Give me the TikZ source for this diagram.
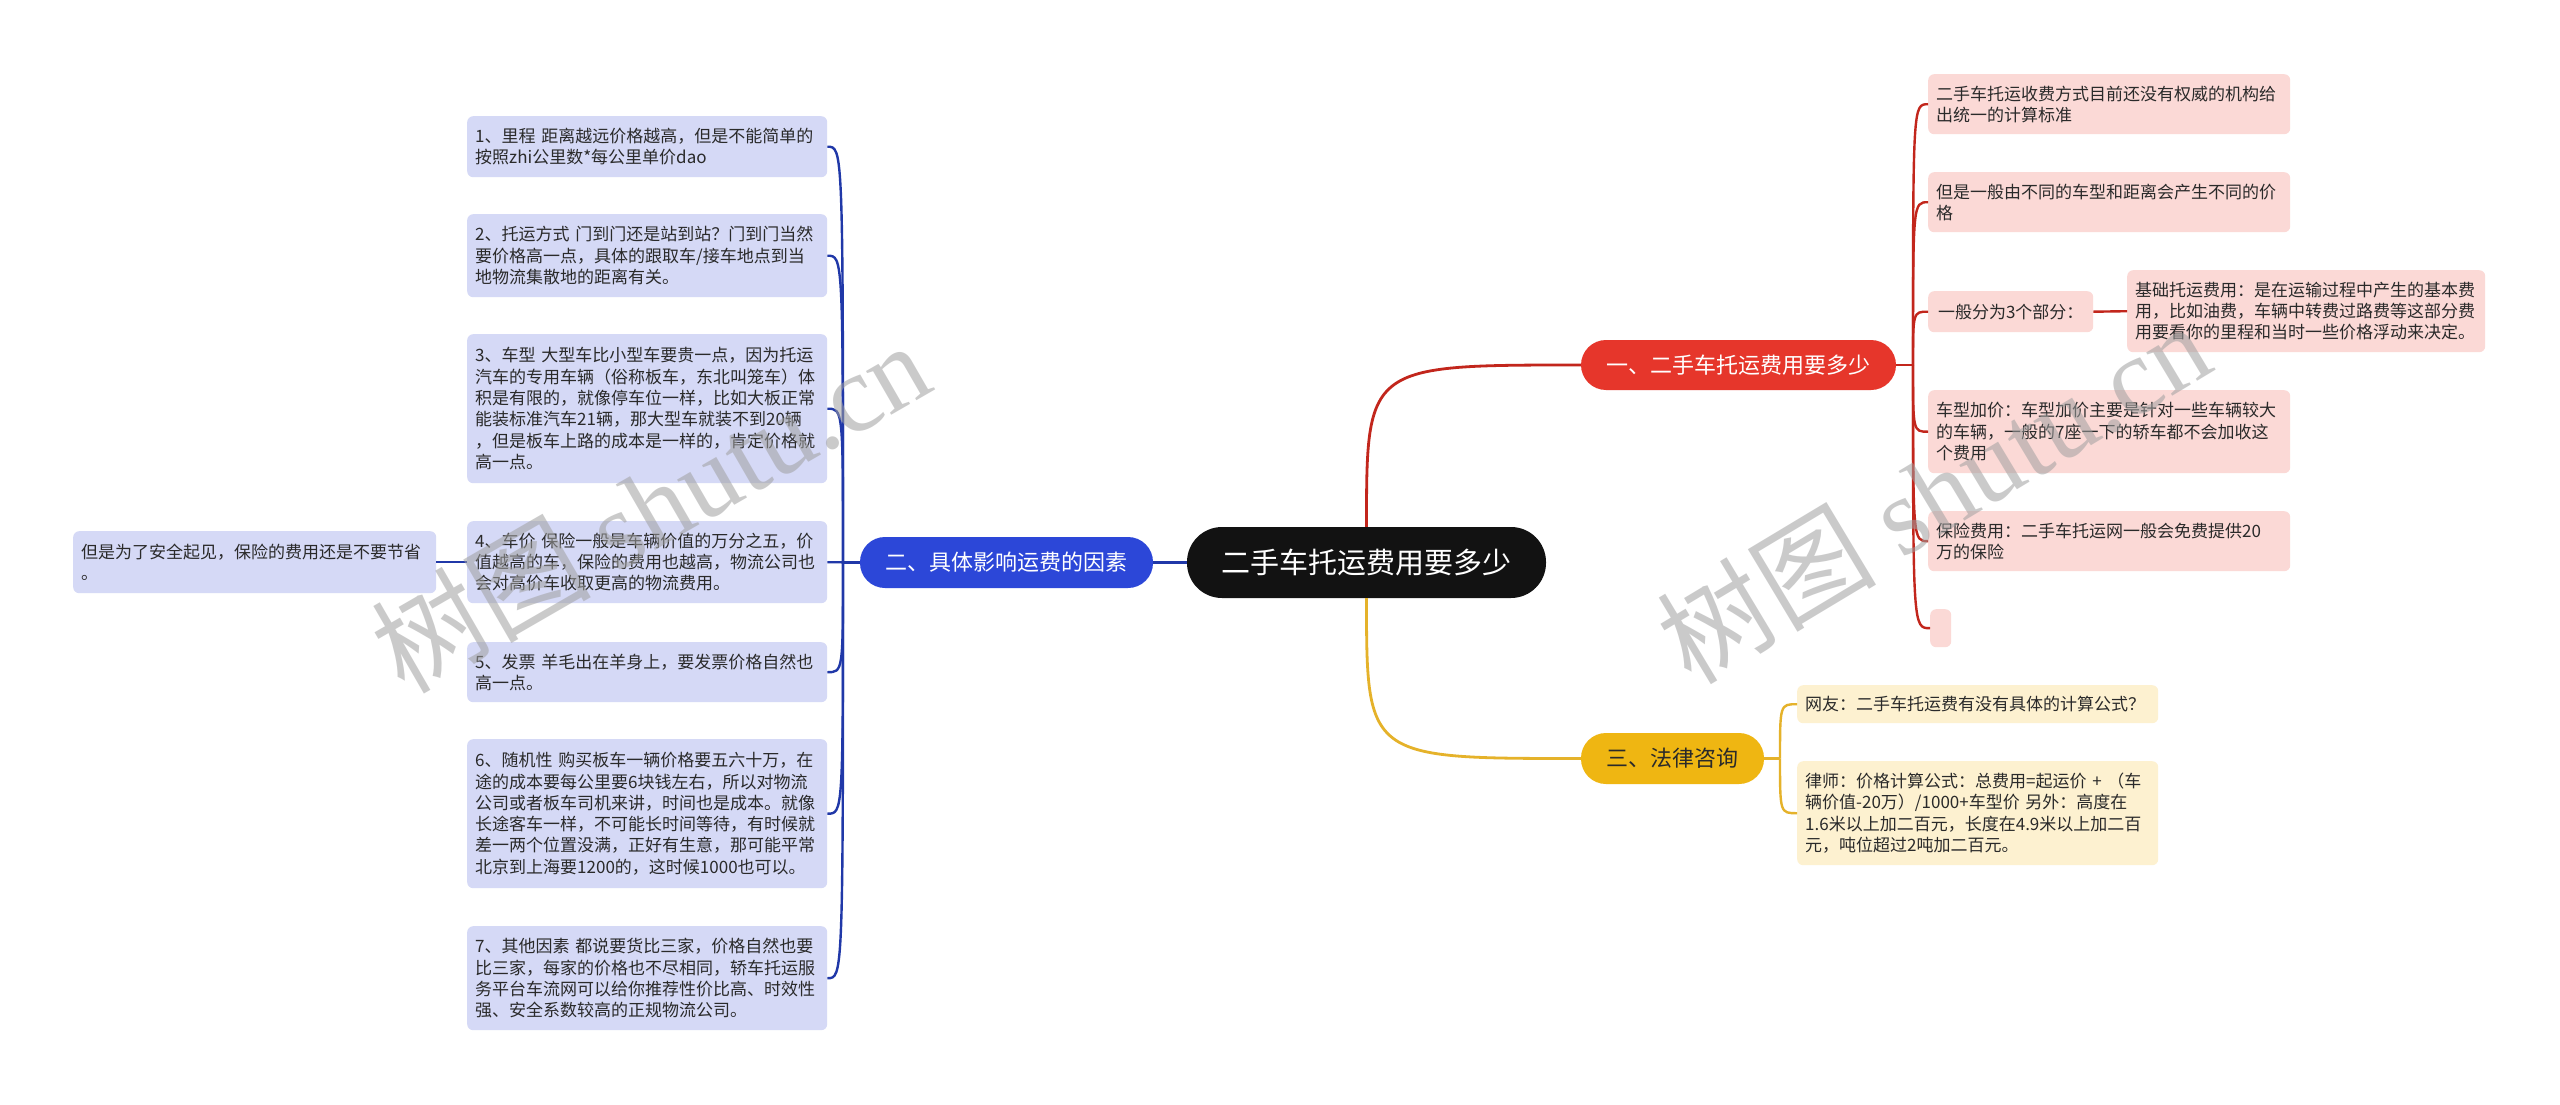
\documentclass[tikz,border=0pt]{standalone}
\usepackage{fontspec}
\newfontfamily\cjk{Noto Sans CJK SC}
\newfontfamily\wmserif{Liberation Serif}
\usetikzlibrary{calc}
\definecolor{rootc}{HTML}{121212}
\definecolor{bluef}{HTML}{2C47D8}
\definecolor{redf}{HTML}{E6362B}
\definecolor{yelf}{HTML}{EFB612}
\definecolor{lav}{HTML}{D5D9F6}
\definecolor{pinkf}{HTML}{FBD9D6}
\definecolor{cream}{HTML}{FDF1D0}
\definecolor{txt}{HTML}{2A2A2A}
\definecolor{bluel}{HTML}{2038A8}
\definecolor{redl}{HTML}{C2261C}
\definecolor{yell}{HTML}{E5B22A}
\definecolor{wmgray}{HTML}{A0A0A0}
\begin{document}
\begin{tikzpicture}[x=1pt,y=-1pt,
  base/.style={rounded corners=6pt, inner xsep=8pt, inner ysep=3pt, align=left, anchor=north west,
    font=\cjk\fontsize{17}{21.3}\selectfont, text=txt},
  bleaf/.style={base, fill=lav},
  rleaf/.style={base, fill=pinkf},
  yleaf/.style={base, fill=cream},
  rootbox/.style={fill=rootc, text=white, rounded corners=35pt, minimum width=359pt, minimum height=71pt,
    inner sep=0pt, font=\cjk\fontsize{29}{34}\selectfont},
  branch/.style={rounded corners=25pt, inner sep=0pt, font=\cjk\fontsize{22}{26}\selectfont},
  mainline/.style={line width=2.8pt},
  bl/.style={draw=bluel, line width=2.4pt},
  rl/.style={draw=redl, line width=2.4pt},
  yl/.style={draw=yell, line width=2.4pt},
  wm/.style={text=wmgray, opacity=0.55}
]
\useasboundingbox (0,0) rectangle (2560,1105);
\fill[white] (0,0) rectangle (2560,1105);

% root and branches
\node[rootbox] (root) at (1366.5,562.5) {二手车托运费用要多少};
\node[branch, fill=bluef, text=white, minimum width=293pt, minimum height=51pt] (blue) at (1006.5,562.5) {二、具体影响运费的因素};
\node[branch, fill=redf, text=white, minimum width=315pt, minimum height=50pt] (red) at (1738.5,365) {一、二手车托运费用要多少};
\node[branch, fill=yelf, text=txt, minimum width=183pt, minimum height=51pt] (yel) at (1672.5,758.5) {三、法律咨询};

% blue children
\node[bleaf, text width=344pt, minimum height=61pt] (b1) at (467,116) {1、里程 距离越远价格越高，但是不能简单的\\按照zhi公里数*每公里单价dao};
\node[bleaf, text width=344pt, minimum height=83pt] (b2) at (467,214) {2、托运方式 门到门还是站到站？门到门当然\\要价格高一点，具体的跟取车/接车地点到当\\地物流集散地的距离有关。};
\node[bleaf, text width=344pt, minimum height=149pt] (b3) at (467,334) {3、车型 大型车比小型车要贵一点，因为托运\\汽车的专用车辆（俗称板车，东北叫笼车）体\\积是有限的，就像停车位一样，比如大板正常\\能装标准汽车21辆，那大型车就装不到20辆\\，但是板车上路的成本是一样的，肯定价格就\\高一点。};
\node[bleaf, text width=344pt, minimum height=82pt] (b4) at (467,521) {4、车价 保险一般是车辆价值的万分之五，价\\值越高的车，保险的费用也越高，物流公司也\\会对高价车收取更高的物流费用。};
\node[bleaf, text width=344pt, minimum height=60pt] (b5) at (467,642) {5、发票 羊毛出在羊身上，要发票价格自然也\\高一点。};
\node[bleaf, text width=344pt, minimum height=149pt] (b6) at (467,739) {6、随机性 购买板车一辆价格要五六十万，在\\途的成本要每公里要6块钱左右，所以对物流\\公司或者板车司机来讲，时间也是成本。就像\\长途客车一样，不可能长时间等待，有时候就\\差一两个位置没满，正好有生意，那可能平常\\北京到上海要1200的，这时候1000也可以。};
\node[bleaf, text width=344pt, minimum height=104pt] (b7) at (467,926) {7、其他因素 都说要货比三家，价格自然也要\\比三家，每家的价格也不尽相同，轿车托运服\\务平台车流网可以给你推荐性价比高、时效性\\强、安全系数较高的正规物流公司。};
\node[bleaf, text width=347pt, minimum height=62pt] (l4) at (73,531) {但是为了安全起见，保险的费用还是不要节省\\。};

% red children
\node[rleaf, text width=346pt, minimum height=60pt] (c1) at (1928,74) {二手车托运收费方式目前还没有权威的机构给\\出统一的计算标准};
\node[rleaf, text width=346pt, minimum height=60pt] (c2) at (1928,172) {但是一般由不同的车型和距离会产生不同的价\\格};
\node[rleaf, minimum width=165pt, minimum height=41pt] (c3) at (1928,291) {一般分为3个部分：};
\node[rleaf, text width=342pt, minimum height=82pt] (c3a) at (2127,270) {基础托运费用：是在运输过程中产生的基本费\\用，比如油费，车辆中转费过路费等这部分费\\用要看你的里程和当时一些价格浮动来决定。};
\node[rleaf, text width=346pt, minimum height=83pt] (c4) at (1928,390) {车型加价：车型加价主要是针对一些车辆较大\\的车辆，一般的7座一下的轿车都不会加收这\\个费用};
\node[rleaf, text width=346pt, minimum height=60pt] (c5) at (1928,511) {保险费用：二手车托运网一般会免费提供20\\万的保险};
\node[rleaf, inner sep=0pt, minimum width=21pt, minimum height=38pt] (c6) at (1930,609) {};

% yellow children
\node[yleaf, text width=345pt, minimum height=38pt] (y1) at (1797,685) {网友：二手车托运费有没有具体的计算公式？};
\node[yleaf, text width=345pt, minimum height=104pt] (y2) at (1797,761) {律师：价格计算公式：总费用=起运价 + （车\\辆价值-20万）/1000+车型价 另外：高度在\\1.6米以上加二百元，长度在4.9米以上加二百\\元，吨位超过2吨加二百元。};

% hubs
\coordinate (bhub) at (843,562.5);
\coordinate (rhub) at (1913,365);
\coordinate (yhub) at (1780,758.5);

% main connectors
\draw[mainline, draw=redl] (root.north) .. controls (root.north |- red.west) .. (red.west);
\draw[mainline, draw=yell] (root.south) .. controls (root.south |- yel.west) .. (yel.west);
\draw[mainline, draw=bluel] (root.west) -- (blue.east);

% blue bracket
\draw[bl] (blue.west) -- (bhub);
\foreach \n in {b1,b2,b3,b4,b5,b6,b7}
  \draw[bl] (bhub) .. controls (bhub |- \n.east) .. (\n.east);
\draw[bl] (b4.west) -- (l4.east);

% red bracket
\draw[rl] (red.east) -- (rhub);
\foreach \n in {c1,c2,c3,c4,c5,c6}
  \draw[rl] (rhub) .. controls (rhub |- \n.west) .. (\n.west);
\draw[rl] (c3.east) -- (c3a.west);

% yellow bracket
\draw[yl] (yel.east) -- (yhub);
\foreach \n in {y1,y2}
  \draw[yl] (yhub) .. controls (yhub |- \n.west) .. (\n.west);

% watermarks
\node[wm, rotate=30, font=\cjk\fontsize{110}{120}\selectfont] (wm1) at (650,506) {树图\hspace{25pt}{\wmserif shutu.cn}};
\node[wm, rotate=31, font=\cjk\fontsize{110}{120}\selectfont] (wm2) at (1933,492) {树图\hspace{25pt}{\wmserif shutu.cn}};
\end{tikzpicture}
\end{document}
